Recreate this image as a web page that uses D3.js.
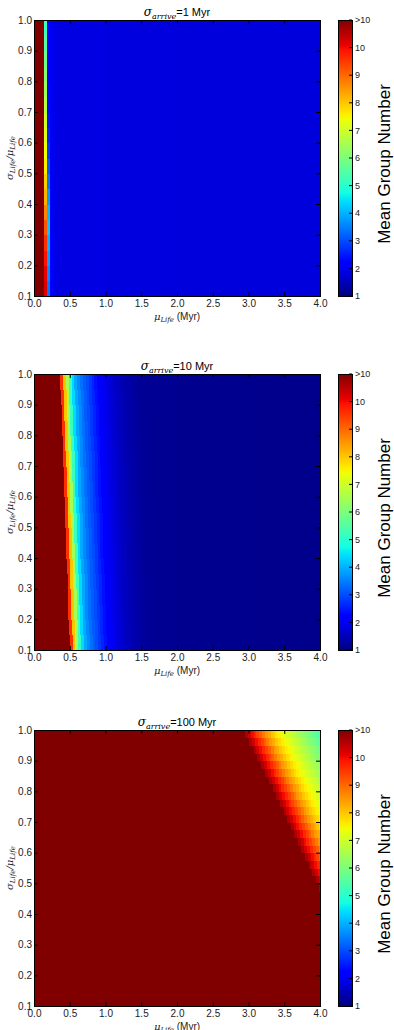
<!DOCTYPE html>
<html>
<head>
<meta charset="utf-8">
<script src="https://cdnjs.cloudflare.com/ajax/libs/d3/7.8.5/d3.min.js"></script>
<style>
  body { margin: 0; background: #fff; }
  text { font-family: "Liberation Sans", Arial, sans-serif; }
  .math { font-family: "DejaVu Serif", serif; font-style: italic; }
</style>
</head>
<body>
<svg id="fig" width="394" height="1030"></svg>
<script>
// ---- data ----
const xTicks = [0, 0.5, 1, 1.5, 2, 2.5, 3, 3.5, 4];
const yTicks = [0.1, 0.2, 0.3, 0.4, 0.5, 0.6, 0.7, 0.8, 0.9, 1.0];
const cbTicks = [1, 2, 3, 4, 5, 6, 7, 8, 9, 10, 11];
const cbLabels = ['1', '2', '3', '4', '5', '6', '7', '8', '9', '10', '>10'];
const arriveValues = ['1', '10', '100'];

// value 11 means ">10"; columns are 0.04 Myr wide, bands listed bottom -> top
// panel 1 (sigma_arrive = 1 Myr)
const p1Edge = [0.14, 0.14, 0.14, 0.14, 0.14, 0.14, 0.14, 0.14, 0.14,
                0.14, 0.14, 0.14, 0.14, 0.14, 0.14, 0.14, 0.14, 0.14];
const p1Cols = [
  [10.2, 3.4, 2.2],
  [10.1, 3.6, 2.2],
  [9.9, 3.8, 2.1],
  [9.6, 4.0, 2.1],
  [9.2, 4.2, 2.0],
  [8.7, 4.1, 2.0],
  [8.2, 3.8, 2.0],
  [7.9, 3.4, 2.0],
  [7.6, 3.1, 2.0],
  [7.4, 2.8, 2.0],
  [7.2, 2.6, 2.0],
  [7.0, 2.45, 2.0],
  [6.7, 2.35, 2.0],
  [6.4, 2.3, 2.0],
  [6.1, 2.25, 2.0],
  [5.8, 2.2, 2.0],
  [5.5, 2.2, 2.0],
  [5.2, 2.2, 2.0]
];
const p1Back = [[0.3, 1.95], [1.0, 1.86], [2.0, 1.82], [4.0, 1.8]];

// panel 2 (sigma_arrive = 10 Myr)
const p2Edge = [0.50, 0.49, 0.48, 0.475, 0.47, 0.46, 0.45, 0.445, 0.44,
                0.43, 0.42, 0.415, 0.41, 0.40, 0.39, 0.385, 0.375, 0.365];
const p2Cols = [9.6, 8.0, 6.5, 5.2, 4.4, 3.9, 3.6, 3.35, 3.15, 3.0, 2.8, 2.6,
                2.4, 2.2, 2.05, 1.95, 1.85, 1.76, 1.68, 1.6, 1.53, 1.47, 1.41,
                1.36, 1.32, 1.28, 1.25, 1.22, 1.2, 1.18];
const p2Back = [[2.0, 1.16], [3.0, 1.13], [4.0, 1.1]];

// panel 3 (sigma_arrive = 100 Myr)
const p3Edge = [4.1, 4.1, 4.1, 4.1, 4.1, 4.1, 4.1, 4.1, 4.1, 4.1, 4.1, 4.1,
                4.1, 4.1, 4.1, 3.99, 3.94, 3.89, 3.84, 3.79, 3.74, 3.69, 3.64,
                3.59, 3.54, 3.49, 3.44, 3.39, 3.34, 3.29, 3.23, 3.18, 3.12,
                3.07, 3.01, 2.95];
const p3Cols = [10.6, 10.3, 10.0, 9.7, 9.4, 9.1, 8.8, 8.5, 8.3, 8.0, 7.8, 7.6,
                7.45, 7.3, 7.15, 7.0, 6.85, 6.7, 6.55, 6.4, 6.25, 6.1, 5.95,
                5.8, 5.65, 5.5, 5.35, 5.2];
const p3Back = [[4.0, 11]];

const panels = [
  {edges: p1Edge, cols: p1Cols, back: p1Back},
  {edges: p2Edge, cols: p2Cols, back: p2Back},
  {edges: p3Edge, cols: p3Cols, back: p3Back}
];

// ---- layout ----
const left = 34, plotW = 286, plotH = 276;
const panelTops = [20, 374, 730];
const cbX = 338, cbW = 14;
const colStep = 0.04;

// matplotlib "jet"
const jetStops = [0, 0.11, 0.125, 0.34, 0.35, 0.375, 0.64, 0.65, 0.66, 0.89, 0.91, 1];
const jetCols = ['rgb(0,0,128)', 'rgb(0,0,255)', 'rgb(0,0,255)', 'rgb(0,219,255)',
  'rgb(0,230,247)', 'rgb(21,255,226)', 'rgb(239,255,8)', 'rgb(247,245,0)',
  'rgb(255,236,0)', 'rgb(255,19,0)', 'rgb(232,0,0)', 'rgb(128,0,0)'];
const jet = d3.scaleLinear().domain(jetStops).range(jetCols)
  .interpolate(d3.interpolateRgb).clamp(true);
const color = v => jet((v - 1) / 10);

const x = d3.scaleLinear().domain([0, 4]).range([0, plotW]);
const y = d3.scaleLinear().domain([0.1, 1.0]).range([plotH, 0]);
const cbY = d3.scaleLinear().domain([1, 11]).range([plotH, 0]);

const svg = d3.select('#fig');
const defs = svg.append('defs');

defs.append('clipPath').attr('id', 'plotClip')
  .append('rect').attr('width', plotW).attr('height', plotH);

const grad = defs.append('linearGradient').attr('id', 'cbGrad')
  .attr('x1', 0).attr('x2', 0).attr('y1', 1).attr('y2', 0);
jetStops.forEach((s, i) => {
  grad.append('stop').attr('offset', s).attr('stop-color', jetCols[i]);
});

panels.forEach((p, pi) => {
  const top = panelTops[pi];
  const g = svg.append('g').attr('transform', `translate(${left},${top})`);

  // build the cells
  const cells = [];
  let x0 = 0;
  p.back.forEach(([x1, v]) => {
    cells.push({x0: x0, x1: x1, y0: 0.1, y1: 1.0, v: v});
    x0 = x1;
  });
  const bh = 0.9 / p.edges.length;
  p.edges.forEach((e, i) => {
    const y0 = 0.1 + i * bh, y1 = y0 + bh;
    cells.push({x0: 0, x1: e, y0: y0, y1: y1, v: 11});
    const cols = Array.isArray(p.cols[0]) ? p.cols[i] : p.cols;
    cols.forEach((v, j) => {
      cells.push({x0: e + j * colStep, x1: e + (j + 1) * colStep, y0: y0, y1: y1, v: v});
    });
  });

  g.append('g').attr('clip-path', 'url(#plotClip)')
    .selectAll('rect').data(cells).join('rect')
    .attr('x', d => x(d.x0))
    .attr('y', d => y(d.y1))
    .attr('width', d => x(d.x1) - x(d.x0) + 0.6)
    .attr('height', d => y(d.y0) - y(d.y1) + 0.6)
    .attr('fill', d => color(d.v))
    .attr('shape-rendering', 'crispEdges');

  // axes, ticks pointing inward on all sides
  const fmt = d3.format('.1f');
  const ax = [
    g.append('g').attr('transform', `translate(0,${plotH})`)
      .call(d3.axisBottom(x).tickValues(xTicks).tickFormat(fmt).tickSize(-4).tickSizeOuter(0).tickPadding(4)),
    g.append('g')
      .call(d3.axisLeft(y).tickValues(yTicks).tickFormat(fmt).tickSize(-4).tickSizeOuter(0).tickPadding(2)),
    g.append('g')
      .call(d3.axisTop(x).tickValues(xTicks).tickFormat('').tickSize(-4).tickSizeOuter(0)),
    g.append('g').attr('transform', `translate(${plotW},0)`)
      .call(d3.axisRight(y).tickValues(yTicks).tickFormat('').tickSize(-4).tickSizeOuter(0))
  ];
  ax.forEach(a => {
    a.select('.domain').remove();
    a.selectAll('text').attr('font-size', 10).attr('fill', '#222')
      .attr('font-family', '"Liberation Sans", Arial, sans-serif');
    a.selectAll('line').attr('stroke', '#000');
  });

  g.append('rect').attr('width', plotW).attr('height', plotH)
    .attr('fill', 'none').attr('stroke', '#000').attr('stroke-width', 1)
    .attr('shape-rendering', 'crispEdges');

  // title
  const t = g.append('text').attr('x', plotW / 2).attr('y', -4)
    .attr('text-anchor', 'middle').attr('fill', '#000');
  t.append('tspan').attr('class', 'math').attr('font-size', 12).text('σ');
  t.append('tspan').attr('class', 'math').attr('font-size', 8).attr('dy', 3).text('arrive');
  t.append('tspan').attr('font-size', 11).attr('dy', -3).text('=' + arriveValues[pi] + ' Myr');

  // x label
  const xl = g.append('text').attr('x', plotW / 2).attr('y', plotH + 24)
    .attr('text-anchor', 'middle').attr('fill', '#222');
  xl.append('tspan').attr('class', 'math').attr('font-size', 10).text('μ');
  xl.append('tspan').attr('class', 'math').attr('font-size', 7).attr('dy', 2).text('Life');
  xl.append('tspan').attr('font-size', 10).attr('dy', -2).text(' (Myr)');

  // y label
  const yl = g.append('text')
    .attr('transform', `translate(${13 - left},${plotH / 2}) rotate(-90)`)
    .attr('text-anchor', 'middle').attr('fill', '#222');
  yl.append('tspan').attr('class', 'math').attr('font-size', 10).text('σ');
  yl.append('tspan').attr('class', 'math').attr('font-size', 7).attr('dy', 2).text('Life');
  yl.append('tspan').attr('class', 'math').attr('font-size', 10).attr('dy', -2).text('/μ');
  yl.append('tspan').attr('class', 'math').attr('font-size', 7).attr('dy', 2).text('Life');

  // colorbar
  const cb = svg.append('g').attr('transform', `translate(${cbX},${top})`);
  cb.append('rect').attr('width', cbW).attr('height', plotH)
    .attr('fill', 'url(#cbGrad)').attr('stroke', '#000').attr('stroke-width', 1)
    .attr('shape-rendering', 'crispEdges');
  cb.selectAll('line.tk').data(cbTicks).join('line').attr('class', 'tk')
    .attr('x1', cbW - 3).attr('x2', cbW)
    .attr('y1', d => cbY(d)).attr('y2', d => cbY(d))
    .attr('stroke', '#000');
  cb.selectAll('text.tl').data(cbTicks).join('text').attr('class', 'tl')
    .attr('x', cbW + 3).attr('y', d => cbY(d)).attr('dy', '0.35em')
    .attr('font-size', 9).attr('fill', '#222')
    .text((d, i) => cbLabels[i]);
  cb.append('text')
    .attr('transform', `translate(${390 - cbX},${plotH / 2 + 6}) rotate(-90)`)
    .attr('text-anchor', 'middle').attr('font-size', 17).attr('fill', '#000')
    .text('Mean Group Number');
});
</script>
</body>
</html>
